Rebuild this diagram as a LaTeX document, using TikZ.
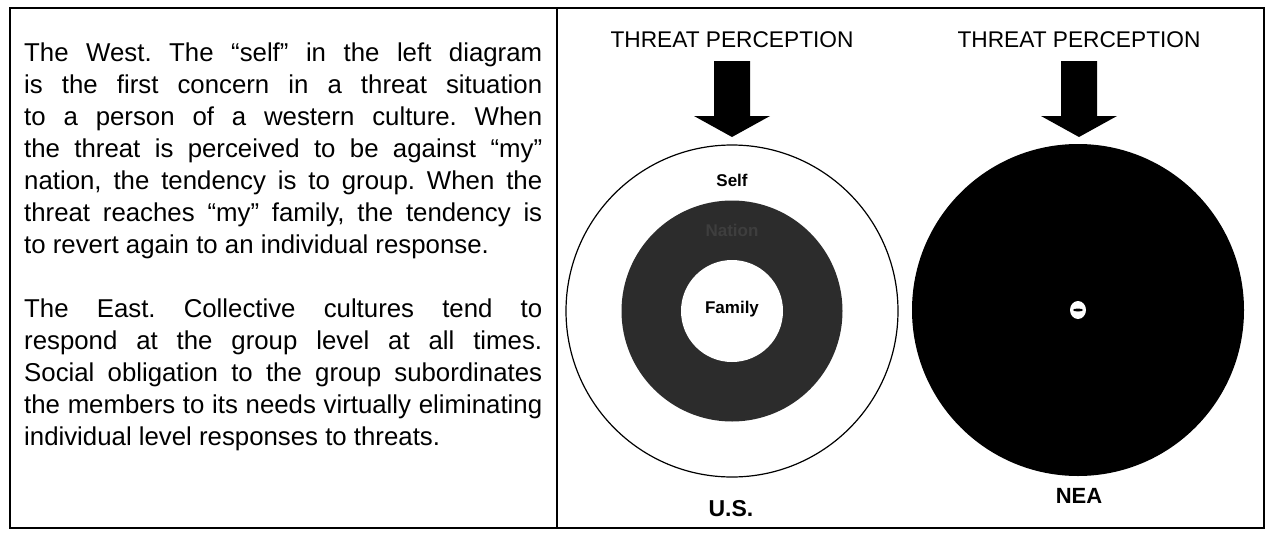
\documentclass[tikz,border=0pt]{standalone}
\usepackage{fontspec}
\setmainfont{Liberation Sans}
\frenchspacing
\definecolor{ringgray}{HTML}{2C2C2C}
\definecolor{faint}{HTML}{3E3E3E}
\begin{document}
\begin{tikzpicture}[x=1pt,y=-1pt,
  frame/.style={line width=2.2pt},
  body/.style={anchor=base west,inner sep=0pt,font=\fontsize{25.8}{32}\selectfont},
  title/.style={anchor=base,inner sep=0pt,font=\fontsize{22.7}{26}\selectfont},
  lbl/.style={anchor=base,inner sep=0pt,font=\bfseries\fontsize{17}{20}\selectfont},
  biglbl/.style={anchor=base,inner sep=0pt,font=\bfseries\fontsize{23}{26}\selectfont},
  bigarrow/.style={fill=black,draw=none}]
\useasboundingbox (0,0) rectangle (1267,536);
\fill[white] (0,0) rectangle (1267,536);
% frame
\draw[frame] (10,8) rectangle (1264,528);
\draw[line width=2pt] (557,8) -- (557,528);
% left text
\node[body] (txt) at (24,61.5) {\parbox[t]{518pt}{\frenchspacing%
\makebox[518pt][s]{The West. The “self” in the left diagram}\\
\makebox[518pt][s]{is the first concern in a threat situation}\\
\makebox[518pt][s]{to a person of a western culture. When}\\
\makebox[518pt][s]{the threat is perceived to be against “my”}\\
\makebox[518pt][s]{nation, the tendency is to group. When the}\\
\makebox[518pt][s]{threat reaches “my” family, the tendency is}\\
to revert again to an individual response.\\[32pt]
\makebox[518pt][s]{The East. Collective cultures tend to}\\
\makebox[518pt][s]{respond at the group level at all times.}\\
\makebox[518pt][s]{Social obligation to the group subordinates}\\
\makebox[518pt][s]{the members to its needs virtually eliminating}\\
individual level responses to threats.}};
% titles
\node[title] (t1) at (732,47) {THREAT PERCEPTION};
\node[title] (t2) at (1079,47) {THREAT PERCEPTION};
% arrows
\path[bigarrow] (714,61) -- (750,61) -- (750,116) -- (770,116) -- (732,137) -- (694,116) -- (714,116) -- cycle;
\path[bigarrow] (1061,61) -- (1097,61) -- (1097,116) -- (1117,116) -- (1079,137) -- (1041,116) -- (1061,116) -- cycle;
% left diagram
\coordinate (cl) at (732,311);
\draw[fill=white,line width=1.2pt] (cl) circle[radius=166pt];
\fill[ringgray] (cl) circle[radius=110.5pt];
\fill[white] (cl) circle[radius=51pt];
\node[lbl] (self) at (732,186) {Self};
\node[lbl,text=faint] (nation) at (732,236) {Nation};
\node[lbl] (family) at (732,313) {Family};
\node[biglbl] (us) at (731,516) {U.S.};
% right diagram
\coordinate (cr) at (1078,310);
\fill[black] (cr) circle[radius=166pt];
\fill[white] (cr) ellipse[x radius=8pt,y radius=9pt];
\fill[black] (1078,310) ellipse[x radius=5pt,y radius=1.5pt];
\node[biglbl,font=\bfseries\fontsize{22}{26}\selectfont] (nea) at (1079,503) {NEA};
\end{tikzpicture}
\end{document}
